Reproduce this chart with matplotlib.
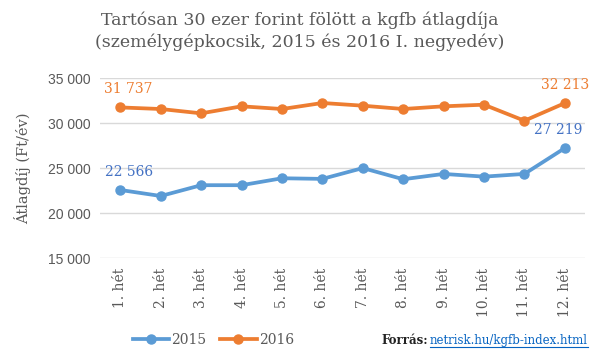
import numpy as np
import matplotlib.pyplot as plt
from matplotlib.lines import Line2D

weeks = ['1. hét', '2. hét', '3. hét', '4. hét', '5. hét', '6. hét',
         '7. hét', '8. hét', '9. hét', '10. hét', '11. hét', '12. hét']
v2015 = [22566, 21900, 23100, 23100, 23870, 23800, 25000, 23760, 24350, 24050, 24350, 27219]
v2016 = [31737, 31560, 31080, 31860, 31560, 32230, 31930, 31560, 31860, 32040, 30260, 32213]
yticks = [15000, 20000, 25000, 30000, 35000]

blue = '#5B9BD5'
orange = '#ED7D31'
gray = '#595959'
serif = 'DejaVu Serif'

fig = plt.figure(figsize=(6, 3.58), dpi=100)
ax = fig.add_axes([0.167, 0.279, 0.808, 0.503])

x = np.arange(len(weeks))
ax.plot(x, v2015, color=blue, lw=2.7, marker='o', ms=6.5, solid_capstyle='round')
ax.plot(x, v2016, color=orange, lw=2.7, marker='o', ms=6.5, solid_capstyle='round')

ax.set_xlim(-0.5, len(weeks) - 0.5)
ax.set_ylim(15000, 35000)
ax.set_yticks(yticks)
ax.set_yticklabels(['{:,}'.format(v).replace(',', ' ') for v in yticks],
                   fontsize=10, color=gray, family='Liberation Sans')
ax.set_xticks(x)
ax.set_xticklabels(weeks, rotation=90, fontsize=10, color=gray, family=serif)
ax.tick_params(length=0, pad=7)
ax.grid(axis='y', color='#D9D9D9', lw=1)
ax.set_axisbelow(True)
for s in ax.spines.values():
    s.set_visible(False)

ax.set_ylabel('Átlagdíj (Ft/év)', fontsize=10.5, color=gray, family=serif, labelpad=12)

# data labels for first and last points
for i in [0, len(weeks) - 1]:
    ax.annotate('{:,}'.format(v2015[i]).replace(',', ' '), (x[i], v2015[i]),
                xytext=(6 if i == 0 else -5, 8), textcoords='offset points',
                ha='center', va='bottom', color='#4472C4', fontsize=10, family=serif)
    ax.annotate('{:,}'.format(v2016[i]).replace(',', ' '), (x[i], v2016[i]),
                xytext=(6 if i == 0 else 0, 8), textcoords='offset points',
                ha='center', va='bottom', color=orange, fontsize=10, family=serif)

fig.text(0.5, 0.913, 'Tartósan 30 ezer forint fölött a kgfb átlagdíja\n'
         '(személygépkocsik, 2015 és 2016 I. negyedév)',
         ha='center', va='center', fontsize=12.5, color=gray, family=serif,
         linespacing=1.3)

handles = [Line2D([], [], color=blue, lw=2.7, marker='o', ms=6.5),
           Line2D([], [], color=orange, lw=2.7, marker='o', ms=6.5)]
fig.legend(handles, ['2015', '2016'], loc='center left', bbox_to_anchor=(0.2, 0.05),
           ncol=2, frameon=False, prop={'family': serif, 'size': 10},
           handlelength=2.6, columnspacing=1.0, handletextpad=0.2, labelcolor=gray)

link = fig.text(0.98, 0.05, 'netrisk.hu/kgfb-index.html', ha='right', va='center',
                fontsize=8.5, color='#0563C1', family=serif)
fig.canvas.draw()
bb = link.get_window_extent().transformed(fig.transFigure.inverted())
fig.text(bb.x0 - 0.003, 0.05, 'Forrás:', ha='right', va='center', fontsize=8.5,
         color='#222222', family=serif, weight='bold')
fig.add_artist(Line2D([bb.x0, bb.x1], [0.03, 0.03], color='#0563C1', lw=0.8))

fig.savefig('out.png', dpi=100, facecolor='white')
